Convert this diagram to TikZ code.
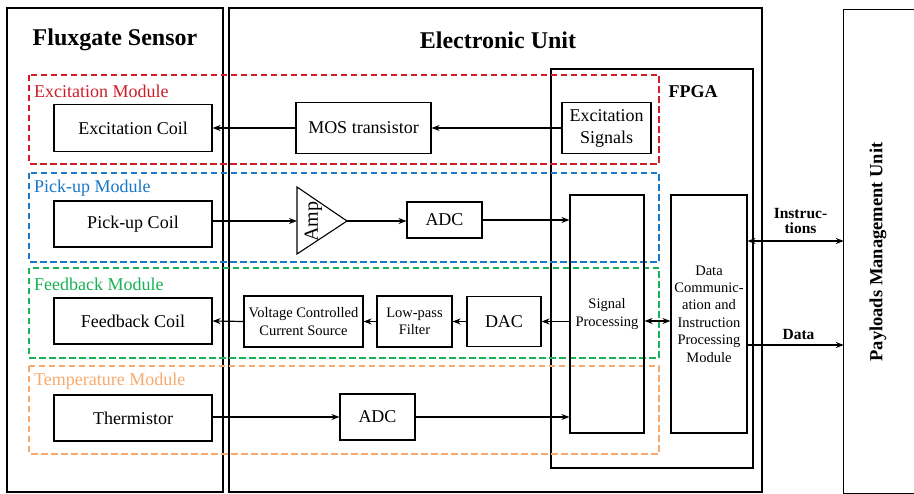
\documentclass[tikz,border=0pt]{standalone}
\usepackage{fontspec}
\setmainfont{Liberation Serif}
\usetikzlibrary{arrows.meta}
\definecolor{exred}{RGB}{205,30,40}
\definecolor{pkblue}{RGB}{25,120,200}
\definecolor{fbgreen}{RGB}{25,178,85}
\definecolor{tporange}{RGB}{248,170,110}
\tikzset{
  box/.style={draw, line width=1.1pt, inner sep=0pt, align=center, font=\fontsize{18}{20}\selectfont},
  smallbox/.style={draw, line width=1.1pt, inner sep=0pt, align=center, font=\fontsize{14.5}{17.6}\selectfont},
  outer/.style={draw, line width=1.2pt},
  module/.style={line width=1.6pt, dash pattern=on 6.5pt off 3.5pt},
  modlabel/.style={anchor=west, inner sep=0pt, font=\fontsize{18}{20}\selectfont},
  arr/.style={line width=1.2pt, -{Stealth[length=8pt,width=6pt]}},
  darr/.style={line width=1.2pt, {Stealth[length=8pt,width=6pt]}-{Stealth[length=8pt,width=6pt]}},
  title/.style={font=\bfseries\fontsize{24}{26}\selectfont, inner sep=0pt}
}
\begin{document}
\begin{tikzpicture}[x=1pt,y=-1pt]
\useasboundingbox (0,0) rectangle (914,494);
\clip (0,0) rectangle (914,494);
\fill[white] (0,0) rectangle (914,494);

% outer units
\draw[outer] (7,8) rectangle (223,492);
\draw[outer] (229,8) rectangle (762,492);
\draw[outer] (551,69) rectangle (753,468);
\node[draw=none, minimum width=80pt, minimum height=483pt, inner sep=0pt] (pmu) at (884,251.5) {};
\draw[outer] (pmu.north east) -- (pmu.north west) -- (pmu.south west) -- (pmu.south east);
\node[font=\bfseries\fontsize{18.5}{20}\selectfont, rotate=90, inner sep=0pt] (pmut) at (878,252) {Payloads Management Unit};

\node[title] (t1) at (115,40) {Fluxgate Sensor};
\node[title] (t2) at (498,40) {Electronic Unit};
\node[font=\bfseries\fontsize{18}{20}\selectfont, inner sep=0pt] (fpga) at (693,92) {FPGA};

% modules
\draw[module, exred] (29,75) rectangle (659,164);
\draw[module, pkblue] (29,173) rectangle (659,262);
\draw[module, fbgreen] (29,268) rectangle (659,358);
\draw[module, tporange] (29,366) rectangle (659,454);
\node[modlabel, exred] (lm1) at (34,91) {Excitation Module};
\node[modlabel, pkblue] (lm2) at (34,188) {Pick-up Module};
\node[modlabel, fbgreen] (lm3) at (34,284) {Feedback Module};
\node[modlabel, tporange] (lm4) at (34,381) {Temperature Module};

% blocks
\node[box, minimum width=158pt, minimum height=47pt] (ec) at (133,128) {Excitation Coil};
\node[box, minimum width=135pt, minimum height=51pt] (mos) at (363.5,128) {MOS transistor};
\node[box, minimum width=89pt, minimum height=51pt, font=\fontsize{18}{22}\selectfont] (es) at (606.5,128) {Excitation\\Signals};

\node[box, minimum width=158pt, minimum height=46pt] (pc) at (133,224) {Pick-up Coil};
\coordinate (ampin) at (297,221);
\coordinate (ampout) at (347,221);
\draw[line width=1.1pt] (297,187) -- (ampout) -- (297,254) -- cycle;
\node[rotate=90, inner sep=0pt, font=\fontsize{20}{22}\selectfont] (ampt) at (313.5,222) {Amp};
\node[box, minimum width=75pt, minimum height=36pt] (adc1) at (444.5,220) {ADC};

\node[smallbox, minimum width=74pt, minimum height=238pt] (sp) at (607,314) {Signal\\Processing};
\node[smallbox, minimum width=76pt, minimum height=238pt, font=\fontsize{14.5}{17.4}\selectfont] (dc) at (709,314) {Data\\Communic-\\ation and\\Instruction\\Processing\\Module};

\node[box, minimum width=158pt, minimum height=46pt] (fc) at (133,321) {Feedback Coil};
\node[smallbox, minimum width=119pt, minimum height=51pt] (vccs) at (303.5,321.5) {Voltage Controlled\\Current Source};
\node[smallbox, minimum width=75pt, minimum height=51pt] (lpf) at (414.5,321.5) {Low-pass\\Filter};
\node[box, minimum width=74pt, minimum height=50pt] (dac) at (504,321.5) {DAC};

\node[box, minimum width=158pt, minimum height=46pt] (th) at (133,418) {Thermistor};
\node[box, minimum width=75pt, minimum height=46pt] (adc2) at (377.5,417) {ADC};

% connectors
\draw[arr] (es.west) -- (mos.east);
\draw[arr] (mos.west) -- (ec.east);
\draw[arr] (pc.east |- ampin) -- (ampin);
\draw[arr] (ampout) -- (adc1.west |- ampout);
\draw[arr] (adc1.east) -- (adc1.east -| sp.west);
\draw[arr] (sp.west |- dac.east) -- (dac.east);
\draw[arr] (dac.west) -- (lpf.east);
\draw[arr] (lpf.west) -- (vccs.east);
\draw[arr] (vccs.west) -- (fc.east);
\draw[arr] (th.east |- adc2.west) -- (adc2.west);
\draw[arr] (adc2.east) -- (adc2.east -| sp.west);
\draw[darr] (sp.east |- 0,321) -- (dc.west |- 0,321);
\draw[darr] (dc.east |- 0,241) -- (pmu.west |- 0,241) node[pos=0.55, above=3pt, align=center, font=\bfseries\fontsize{15.5}{15}\selectfont] (instr) {Instruc-\\tions};
\draw[arr] (dc.east |- 0,345) -- (pmu.west |- 0,345) node[pos=0.53, above=5pt, font=\bfseries\fontsize{15.5}{15}\selectfont, inner sep=0pt] (data) {Data};
\end{tikzpicture}
\end{document}
